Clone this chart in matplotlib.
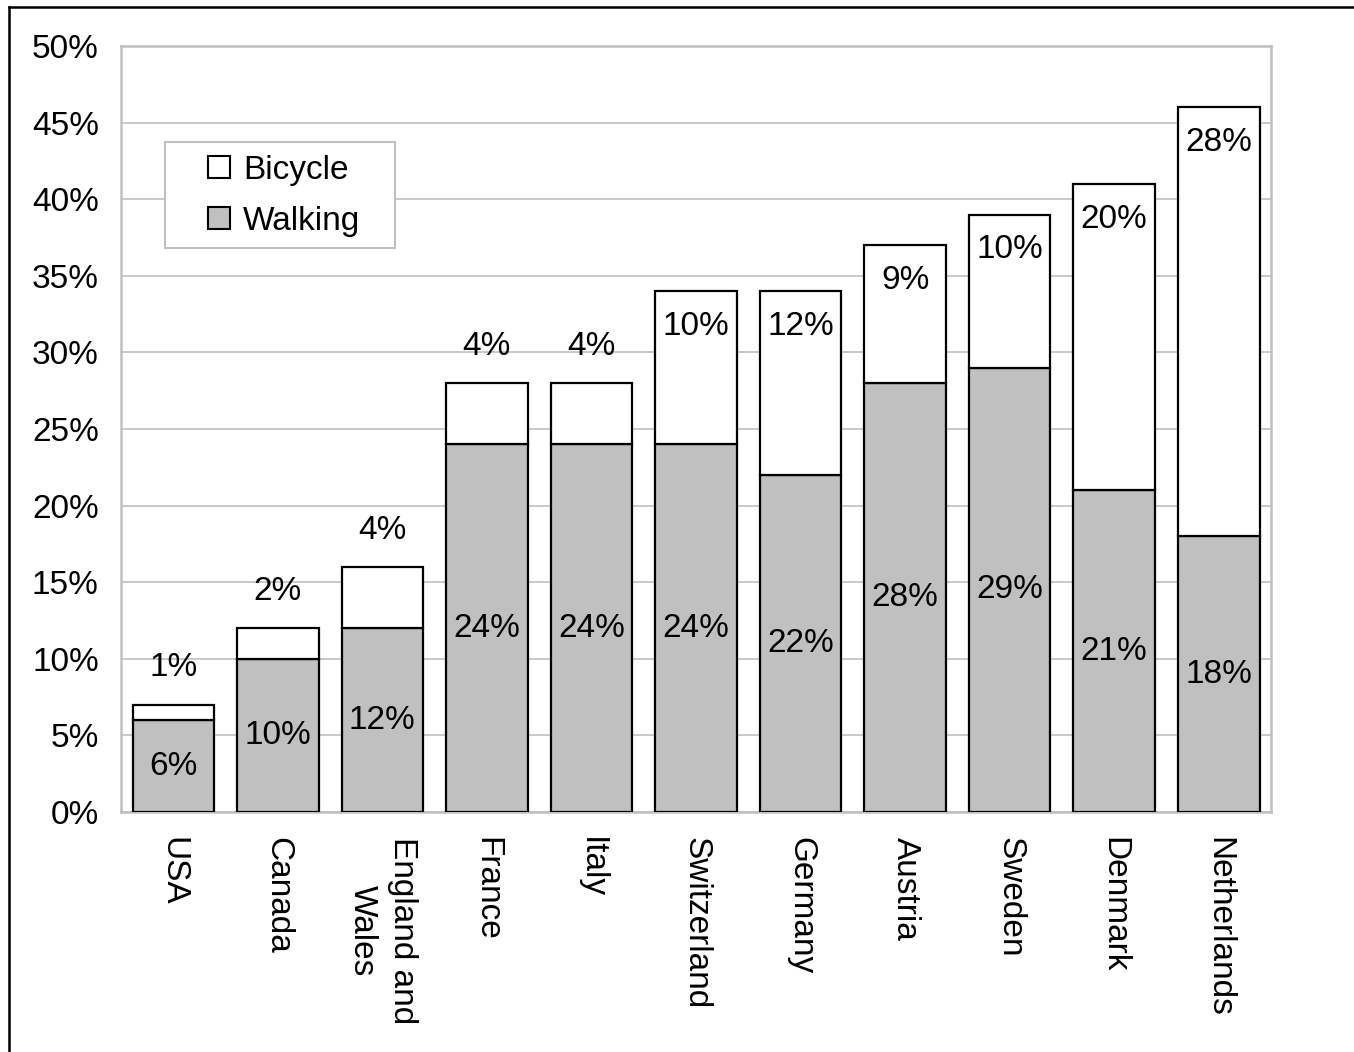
import matplotlib
matplotlib.use("Agg")
import matplotlib.pyplot as plt
from matplotlib.patches import Patch, Rectangle
from matplotlib.lines import Line2D
import numpy as np

countries = ["USA", "Canada", "England and\nWales", "France", "Italy", "Switzerland",
             "Germany", "Austria", "Sweden", "Denmark", "Netherlands"]
walking = [6, 10, 12, 24, 24, 24, 22, 28, 29, 21, 18]
bicycle = [1, 2, 4, 4, 4, 10, 12, 9, 10, 20, 28]
yticks = [0, 5, 10, 15, 20, 25, 30, 35, 40, 45, 50]

plt.rcParams['font.family'] = ['Liberation Sans', 'DejaVu Sans']
FS = 24

fig = plt.figure(figsize=(13.54, 10.52), dpi=100)
ax = fig.add_axes([121/1354, 1-812/1052, (1271-121)/1354, (812-46)/1052])

x = np.arange(len(countries))
w = 0.78
ax.bar(x, walking, w, color="#c0c0c0", edgecolor="black", linewidth=1.6, zorder=3)
ax.bar(x, bicycle, w, bottom=walking, color="white", edgecolor="black", linewidth=1.6, zorder=3)

for i in range(len(countries)):
    ax.text(x[i], walking[i] / 2, f"{walking[i]}%", ha="center", va="center",
            fontsize=FS, zorder=4)
    top = walking[i] + bicycle[i]
    if bicycle[i] >= 5:
        ax.text(x[i], top - 2.3, f"{bicycle[i]}%", ha="center", va="center",
                fontsize=FS, zorder=4)
    else:
        ax.text(x[i], top + 2.4, f"{bicycle[i]}%", ha="center", va="center",
                fontsize=FS, zorder=4)

ax.set_xlim(-0.5, len(countries) - 0.5)
ax.set_ylim(0, 50)
ax.set_yticks(yticks)
ax.set_yticklabels([f"{t}%" for t in yticks], fontsize=FS)
ax.set_xticks(x)
ax.set_xticklabels(countries, rotation=-90, fontsize=FS, ha="center", va="top",
                   multialignment="center", linespacing=1.35)
ax.tick_params(axis="both", length=0)
ax.tick_params(axis="y", pad=16)
ax.tick_params(axis="x", pad=18)
ax.yaxis.grid(True, color="#c0c0c0", linewidth=1.2, zorder=0)
ax.set_axisbelow(True)
for s in ax.spines.values():
    s.set_color("#c0c0c0")
    s.set_linewidth(1.8)

# legend frame
ax.add_patch(Rectangle(((165-121)/1150, (812-248)/766), (395-165)/1150, (248-142)/766,
                       transform=ax.transAxes, facecolor="white", edgecolor="#c0c0c0",
                       linewidth=1.5, zorder=5))
handles = [Patch(facecolor="white", edgecolor="black", linewidth=1.5),
           Patch(facecolor="#c0c0c0", edgecolor="black", linewidth=1.5)]
leg = ax.legend(handles, ["Bicycle", "Walking"], loc="upper left",
                bbox_to_anchor=((208-121)/1150, (812-155)/766), fontsize=FS,
                frameon=False, handlelength=0.65, handleheight=0.65,
                handletextpad=0.4, borderpad=0, labelspacing=0.6, borderaxespad=0)
leg.set_zorder(6)

fig.add_artist(Line2D([8.5/1354, 8.5/1354], [0, 1-7/1052], color="black", linewidth=1.8,
                      transform=fig.transFigure))
fig.add_artist(Line2D([8.5/1354, 1], [1-7/1052, 1-7/1052], color="black", linewidth=1.8,
                      transform=fig.transFigure))

fig.savefig("out.png", dpi=100, facecolor="white")
